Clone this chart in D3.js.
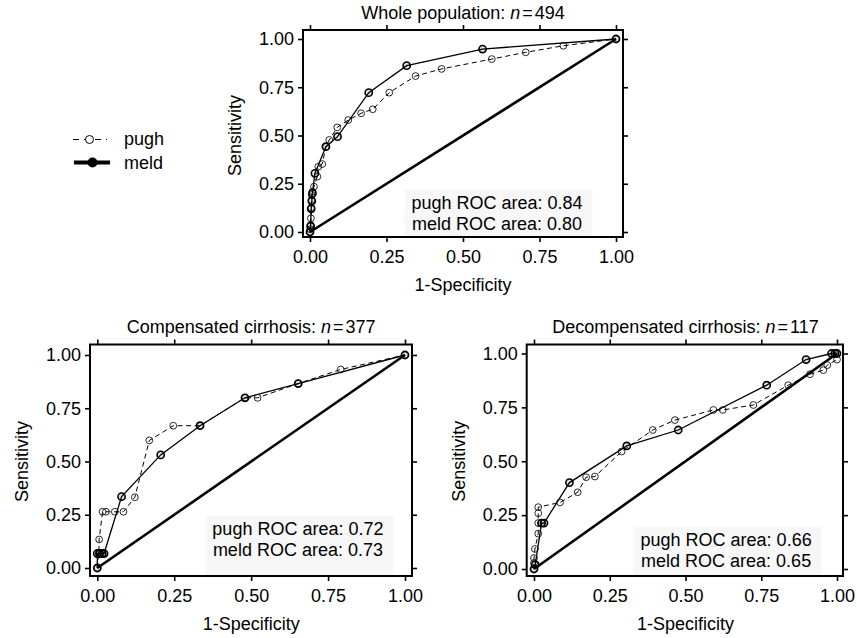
<!DOCTYPE html>
<html><head><meta charset="utf-8">
<script src="https://cdn.jsdelivr.net/npm/d3@7"></script>
<style>
body{margin:0;background:#fff}
svg text{font-family:"Liberation Sans",Arial,Helvetica,sans-serif;fill:#000}
</style>
</head><body><svg id="c" width="857" height="638"></svg>
<script>
// ---------- data ----------
const tickValues = [0, 0.25, 0.5, 0.75, 1];
const tickLabels = ["0.00", "0.25", "0.50", "0.75", "1.00"];
const seriesNames = ["pugh", "meld"];
const panelTitles = ["Whole population: ", "Compensated cirrhosis: ", "Decompensated cirrhosis: "];
const panelN = ["494", "377", "117"];
const pughArea = ["0.84", "0.72", "0.66"];
const meldArea = ["0.80", "0.73", "0.65"];

const wholePughX = [0, 0.001, 0.002, 0.003, 0.004, 0.005, 0.006, 0.008, 0.013, 0.024, 0.027, 0.040, 0.052, 0.063, 0.089, 0.125, 0.167, 0.205, 0.259, 0.345, 0.430, 0.594, 0.705, 0.828, 1];
const wholePughY = [0, 0.014, 0.036, 0.071, 0.126, 0.166, 0.192, 0.209, 0.235, 0.287, 0.338, 0.352, 0.442, 0.477, 0.542, 0.580, 0.615, 0.636, 0.722, 0.808, 0.845, 0.896, 0.931, 0.965, 1];
const wholeMeldX = [0, 0.002, 0.004, 0.006, 0.008, 0.016, 0.052, 0.090, 0.192, 0.316, 0.564, 1];
const wholeMeldY = [0, 0.03, 0.12, 0.16, 0.20, 0.304, 0.442, 0.494, 0.722, 0.862, 0.948, 1];

const compPughX = [0, 0.005, 0.006, 0.017, 0.028, 0.057, 0.085, 0.122, 0.169, 0.247, 0.334, 0.480, 0.521, 0.653, 0.791, 1];
const compPughY = [0, 0.068, 0.134, 0.264, 0.264, 0.264, 0.264, 0.332, 0.599, 0.668, 0.668, 0.799, 0.799, 0.866, 0.932, 1];
const compMeldX = [0, 0, 0.008, 0.016, 0.022, 0.079, 0.206, 0.334, 0.480, 0.653, 1];
const compMeldY = [0, 0.068, 0.068, 0.068, 0.068, 0.335, 0.531, 0.668, 0.799, 0.866, 1];

const decompPughX = [0, 0, 0, 0.003, 0.014, 0.014, 0.014, 0.014, 0.086, 0.144, 0.172, 0.201, 0.289, 0.392, 0.465, 0.592, 0.623, 0.724, 0.839, 0.911, 0.955, 0.968, 1, 1];
const decompPughY = [0, 0.028, 0.051, 0.093, 0.164, 0.213, 0.259, 0.287, 0.309, 0.356, 0.426, 0.429, 0.545, 0.645, 0.691, 0.738, 0.738, 0.761, 0.853, 0.904, 0.923, 0.946, 0.972, 1];
const decompMeldX = [0, 0.004, 0.025, 0.033, 0.117, 0.306, 0.476, 0.768, 0.898, 0.982, 0.993, 1];
const decompMeldY = [0, 0.02, 0.213, 0.213, 0.401, 0.571, 0.645, 0.853, 0.972, 1, 1, 1];

// annotation anchor (data units): centre x, baseline of 2nd line
const annX = [0.611, 0.652, 0.634];
const annY = [0.010, 0.057, 0.010];

// ---------- layout ----------
const panels = [
  {box:[303, 30, 623, 237], xr:[310, 616], yr:[232, 39], px: wholePughX, py: wholePughY, mx: wholeMeldX, my: wholeMeldY},
  {box:[90, 344.5, 412, 576], xr:[97.3, 405], yr:[568, 355], px: compPughX, py: compPughY, mx: compMeldX, my: compMeldY},
  {box:[526.7, 344.5, 843, 576], xr:[534, 837], yr:[569, 353.5], px: decompPughX, py: decompPughY, mx: decompMeldX, my: decompMeldY}
];

const svg = d3.select("#c");
const FS = 18;

panels.forEach((p, i) => {
  const g = svg.append("g");
  const x = d3.scaleLinear().domain([0, 1]).range(p.xr);
  const y = d3.scaleLinear().domain([0, 1]).range(p.yr);
  const [bx0, by0, bx1, by1] = p.box;

  // annotation
  const ag = g.append("g");
  const bg = ag.append("rect").attr("fill", "#f7f7f7");
  const ax = x(annX[i]), ay2 = y(annY[i]), ay1 = ay2 - 21;
  const t1 = ag.append("text").attr("x", ax).attr("y", ay1).attr("text-anchor", "middle")
    .attr("font-size", FS).text(seriesNames[0] + " ROC area: " + pughArea[i]);
  const t2 = ag.append("text").attr("x", ax).attr("y", ay2).attr("text-anchor", "middle")
    .attr("font-size", FS).text(seriesNames[1] + " ROC area: " + meldArea[i]);
  const w = Math.max(t1.node().getComputedTextLength(), t2.node().getComputedTextLength());
  bg.attr("x", ax - w / 2 - 7).attr("y", ay1 - 19).attr("width", w + 17).attr("height", by1 - (ay1 - 19));

  // diagonal
  g.append("line").attr("x1", x(0)).attr("y1", y(0)).attr("x2", x(1)).attr("y2", y(1))
    .attr("stroke", "#000").attr("stroke-width", 2.6);

  const line = d3.line().x(d => x(d[0])).y(d => y(d[1]));
  const pugh = p.px.map((v, k) => [v, p.py[k]]);
  const meld = p.mx.map((v, k) => [v, p.my[k]]);

  g.append("path").datum(pugh).attr("d", line).attr("fill", "none").attr("stroke", "#000")
    .attr("stroke-width", 1).attr("stroke-dasharray", "5,3.5");
  g.append("path").datum(meld).attr("d", line).attr("fill", "none").attr("stroke", "#000")
    .attr("stroke-width", 1.3);

  g.selectAll(".pm").data(pugh).join("circle").attr("cx", d => x(d[0])).attr("cy", d => y(d[1]))
    .attr("r", 3.4).attr("fill", "none").attr("stroke", "#111").attr("stroke-width", 0.9);
  g.selectAll(".mm").data(meld).join("circle").attr("cx", d => x(d[0])).attr("cy", d => y(d[1]))
    .attr("r", 3.6).attr("fill", "rgba(0,0,0,0.12)").attr("stroke", "#000").attr("stroke-width", 1.6);

  // box
  g.append("rect").attr("x", bx0).attr("y", by0).attr("width", bx1 - bx0).attr("height", by1 - by0)
    .attr("fill", "none").attr("stroke", "#000").attr("stroke-width", 2);

  // axes
  const fmt = (d) => tickLabels[tickValues.indexOf(d)];
  const styleAxis = (sel) => {
    sel.select(".domain").remove();
    sel.selectAll(".tick line").attr("stroke", "#000").attr("stroke-width", 1.6);
    sel.selectAll("text").attr("font-size", FS).attr("font-family", null).attr("fill", "#000");
  };
  g.append("g").attr("transform", `translate(${bx0},0)`)
    .call(d3.axisLeft(y).tickValues(tickValues).tickFormat(fmt).tickSize(5).tickPadding(4)).call(styleAxis);
  g.append("g").attr("transform", `translate(${bx1},0)`)
    .call(d3.axisRight(y).tickValues(tickValues).tickFormat("").tickSize(5)).call(styleAxis);
  g.append("g").attr("transform", `translate(0,${by1})`)
    .call(d3.axisBottom(x).tickValues(tickValues).tickFormat(fmt).tickSize(5).tickPadding(8)).call(styleAxis);
  g.append("g").attr("transform", `translate(0,${by0})`)
    .call(d3.axisTop(x).tickValues(tickValues).tickFormat("").tickSize(5)).call(styleAxis);

  // axis titles
  const cx = (p.xr[0] + p.xr[1]) / 2, cy = (p.yr[0] + p.yr[1]) / 2;
  g.append("text").attr("x", cx).attr("y", by1 + 54).attr("text-anchor", "middle")
    .attr("font-size", FS).text("1-Specificity");
  g.append("text").attr("transform", `translate(${bx0 - 62},${cy}) rotate(-90)`).attr("text-anchor", "middle")
    .attr("font-size", FS).text("Sensitivity");

  // title
  const tt = g.append("text").attr("x", cx).attr("y", by0 - 11.5).attr("text-anchor", "middle").attr("font-size", FS);
  tt.append("tspan").text(panelTitles[i]);
  tt.append("tspan").attr("font-style", "italic").text("n");
  tt.append("tspan").attr("dx", 2).text("=");
  tt.append("tspan").attr("dx", 2).text(panelN[i]);
});

// legend
const lg = svg.append("g");
lg.append("line").attr("x1", 73).attr("x2", 107).attr("y1", 139.5).attr("y2", 139.5)
  .attr("stroke", "#000").attr("stroke-width", 1).attr("stroke-dasharray", "6,5");
lg.append("circle").attr("cx", 89.5).attr("cy", 139.5).attr("r", 4).attr("fill", "#fff").attr("stroke", "#000").attr("stroke-width", 1);
lg.append("line").attr("x1", 74).attr("x2", 110).attr("y1", 162.5).attr("y2", 162.5)
  .attr("stroke", "#000").attr("stroke-width", 4);
lg.append("circle").attr("cx", 92.5).attr("cy", 162.5).attr("r", 5).attr("fill", "#000");
lg.append("text").attr("x", 124).attr("y", 145).attr("font-size", FS).text(seriesNames[0]);
lg.append("text").attr("x", 124).attr("y", 168.5).attr("font-size", FS).text(seriesNames[1]);
</script>
</body></html>
